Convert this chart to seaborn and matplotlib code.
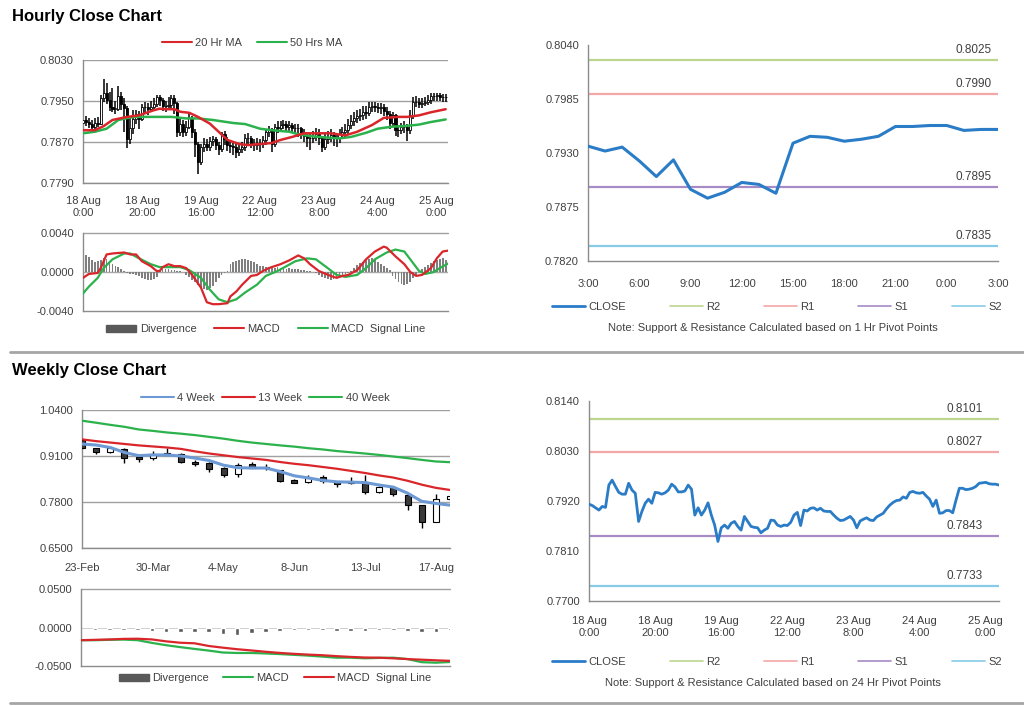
import numpy as np
import pandas as pd
import matplotlib
matplotlib.use("Agg")
import matplotlib.pyplot as plt
import seaborn as sns
from matplotlib.patches import Patch
from matplotlib.lines import Line2D

# ---------------- DATA ----------------
hourly_close = [
    0.7913, 0.7910, 0.7905, 0.7900, 0.7908, 0.7906, 0.7955, 0.7966, 0.7952, 0.7939,
    0.7935, 0.7935, 0.7959, 0.7944, 0.7937, 0.7875, 0.7897, 0.7915, 0.7924, 0.7915,
    0.7939, 0.7938, 0.7935, 0.7938, 0.7944, 0.7957, 0.7951, 0.7940, 0.7940, 0.7942,
    0.7955, 0.7946, 0.7889, 0.7905, 0.7889, 0.7900, 0.7916, 0.7889, 0.7867, 0.7831,
    0.7861, 0.7867, 0.7860, 0.7871, 0.7875, 0.7864, 0.7856, 0.7886, 0.7875, 0.7864,
    0.7862, 0.7861, 0.7850, 0.7856, 0.7860, 0.7878, 0.7877, 0.7867, 0.7864, 0.7867,
    0.7866, 0.7873, 0.7889, 0.7895, 0.7866, 0.7900, 0.7898, 0.7904, 0.7905, 0.7900,
    0.7904, 0.7898, 0.7897, 0.7897, 0.7889, 0.7882, 0.7877, 0.7878, 0.7882, 0.7886,
    0.7878, 0.7861, 0.7876, 0.7880, 0.7883, 0.7878, 0.7877, 0.7885, 0.7889, 0.7893,
    0.7903, 0.7911, 0.7917, 0.7921, 0.7922, 0.7929, 0.7926, 0.7939, 0.7941, 0.7938,
    0.7937, 0.7939, 0.7931, 0.7924, 0.7908, 0.7922, 0.7893, 0.7894, 0.7899, 0.7899,
    0.7894, 0.7922, 0.7948, 0.7948, 0.7945, 0.7946, 0.7948, 0.7952, 0.7959, 0.7960,
    0.7961, 0.7958, 0.7957, 0.7957, 0.7955]
hourly_first_open = 0.7908
hourly_high = [
    0.7920, 0.7921, 0.7917, 0.7912, 0.7916, 0.7918, 0.7962, 0.7992, 0.7985, 0.7968,
    0.7975, 0.7950, 0.7980, 0.7968, 0.7955, 0.7940, 0.7918, 0.7933, 0.7932, 0.7930,
    0.7945, 0.7948, 0.7946, 0.7950, 0.7955, 0.7962, 0.7962, 0.7955, 0.7950, 0.7958,
    0.7962, 0.7962, 0.7948, 0.7915, 0.7912, 0.7910, 0.7926, 0.7920, 0.7895, 0.7870,
    0.7866, 0.7878, 0.7875, 0.7880, 0.7882, 0.7880, 0.7870, 0.7890, 0.7892, 0.7880,
    0.7872, 0.7870, 0.7866, 0.7865, 0.7870, 0.7885, 0.7888, 0.7882, 0.7875, 0.7878,
    0.7876, 0.7882, 0.7895, 0.7902, 0.7898, 0.7906, 0.7910, 0.7910, 0.7912, 0.7910,
    0.7910, 0.7908, 0.7906, 0.7905, 0.7900, 0.7895, 0.7890, 0.7888, 0.7892, 0.7898,
    0.7895, 0.7882, 0.7885, 0.7892, 0.7895, 0.7890, 0.7886, 0.7895, 0.7900, 0.7905,
    0.7915, 0.7922, 0.7928, 0.7932, 0.7935, 0.7940, 0.7940, 0.7948, 0.7949, 0.7948,
    0.7946, 0.7947, 0.7945, 0.7938, 0.7930, 0.7928, 0.7925, 0.7902, 0.7908, 0.7910,
    0.7905, 0.7932, 0.7958, 0.7960, 0.7955, 0.7955, 0.7958, 0.7962, 0.7966, 0.7966,
    0.7966, 0.7965, 0.7964, 0.7963, 0.7962]
hourly_low = [
    0.7900, 0.7902, 0.7897, 0.7893, 0.7895, 0.7899, 0.7903, 0.7948, 0.7945, 0.7930,
    0.7928, 0.7925, 0.7930, 0.7932, 0.7890, 0.7858, 0.7866, 0.7885, 0.7905, 0.7896,
    0.7910, 0.7925, 0.7922, 0.7928, 0.7930, 0.7938, 0.7940, 0.7930, 0.7928, 0.7932,
    0.7935, 0.7925, 0.7880, 0.7882, 0.7880, 0.7882, 0.7895, 0.7878, 0.7840, 0.7807,
    0.7825, 0.7850, 0.7852, 0.7853, 0.7862, 0.7855, 0.7845, 0.7850, 0.7865, 0.7852,
    0.7848, 0.7845, 0.7838, 0.7842, 0.7848, 0.7852, 0.7865, 0.7858, 0.7852, 0.7855,
    0.7850, 0.7858, 0.7865, 0.7880, 0.7851, 0.7860, 0.7888, 0.7890, 0.7895, 0.7890,
    0.7892, 0.7888, 0.7885, 0.7880, 0.7876, 0.7870, 0.7860, 0.7855, 0.7868, 0.7872,
    0.7865, 0.7851, 0.7855, 0.7866, 0.7870, 0.7862, 0.7860, 0.7868, 0.7875, 0.7880,
    0.7885, 0.7895, 0.7902, 0.7908, 0.7910, 0.7912, 0.7915, 0.7920, 0.7928, 0.7928,
    0.7926, 0.7925, 0.7920, 0.7912, 0.7895, 0.7900, 0.7882, 0.7880, 0.7885, 0.7888,
    0.7871, 0.7885, 0.7915, 0.7938, 0.7936, 0.7936, 0.7940, 0.7942, 0.7945, 0.7950,
    0.7950, 0.7950, 0.7948, 0.7948, 0.7940]

ma20_hours = [0, 4, 7, 10, 15, 19, 24, 26, 28, 31, 33, 36, 39, 43, 46, 49, 53, 56, 60, 64,
              67, 71, 75, 80, 84, 89, 93, 98, 102, 107, 110, 114, 118, 123]
ma20_vals = [0.7893, 0.7893, 0.7901, 0.7913, 0.7919, 0.7922, 0.7932, 0.7935, 0.7934, 0.7934,
             0.7929, 0.7927, 0.7919, 0.7906, 0.7890, 0.7874, 0.7866, 0.7864, 0.7866, 0.7868,
             0.7874, 0.7880, 0.7887, 0.7887, 0.7887, 0.7883, 0.7890, 0.7903, 0.7917, 0.7919,
             0.7919, 0.7922, 0.7928, 0.7934]
ma50_hours = [0, 4, 8, 12, 17, 21, 26, 30, 35, 39, 44, 51, 55, 60, 64, 70, 73, 78, 82, 87,
              91, 96, 100, 105, 109, 114, 118, 123]
ma50_vals = [0.7887, 0.7890, 0.7896, 0.7913, 0.7919, 0.7919, 0.7919, 0.7919, 0.7916, 0.7916,
             0.7913, 0.7907, 0.7905, 0.7896, 0.7893, 0.7890, 0.7885, 0.7881, 0.7879, 0.7877,
             0.7880, 0.7888, 0.7896, 0.7900, 0.7901, 0.7904, 0.7909, 0.7914]

hourly_divergence = [
    0.0016, 0.0017, 0.0015, 0.0012, 0.0010, 0.0011, 0.0012, 0.0014, 0.0013, 0.0011,
    0.0008, 0.0006, 0.0005, 0.0003, 0.0001, -0.0001, -0.0002, -0.0002, -0.0003, -0.0004,
    -0.0006, -0.0007, -0.0008, -0.0008, -0.0007, -0.0005, 0.0002, 0.0003, 0.0003, 0.0003,
    0.0002, 0.0002, 0.0001, 0.0001, 0.0000, -0.0003, -0.0005, -0.0008, -0.0010, -0.0013,
    -0.0015, -0.0017, -0.0018, -0.0016, -0.0014, -0.0010, -0.0006, -0.0003, -0.0001, 0.0001,
    0.0008, 0.0010, 0.0011, 0.0012, 0.0013, 0.0013, 0.0012, 0.0011, 0.0010, 0.0008,
    0.0006, 0.0006, 0.0005, 0.0005, 0.0004, 0.0004, 0.0005, 0.0004, 0.0004, 0.0003,
    0.0004, 0.0003, 0.0003, 0.0003, 0.0002, 0.0002, 0.0001, 0.0001, 0.0000, -0.0001,
    -0.0003, -0.0005, -0.0006, -0.0007, -0.0008, -0.0007, -0.0006, -0.0004, -0.0003, -0.0002,
    -0.0001, 0.0001, 0.0004, 0.0007, 0.0009, 0.0010, 0.0012, 0.0013, 0.0014, 0.0012,
    0.0010, 0.0008, 0.0006, 0.0004, 0.0002, -0.0004, -0.0007, -0.0010, -0.0012, -0.0013,
    -0.0012, -0.0010, -0.0006, -0.0003, 0.0000, 0.0003, 0.0005, 0.0007, 0.0009, 0.0011,
    0.0012, 0.0013, 0.0014, 0.0012, 0.0010]
macd_hours = [0, 2, 5, 6, 8, 10, 14, 16, 18, 20, 23, 25, 26, 27, 29, 31, 33, 35, 37, 40,
              42, 44, 46, 49, 50, 52, 54, 57, 59, 61, 63, 67, 70, 73, 75, 77, 80, 84, 86, 88,
              90, 93, 96, 99, 102, 103, 106, 109, 111, 113, 115, 118, 120, 122, 124]
macd_vals = [-0.0006, -0.0002, -0.0001, 0.0004, 0.0018, 0.0019, 0.0020, 0.0018, 0.0018, 0.0011,
             0.0006, 0.0001, 0.0001, 0.0005, 0.0008, 0.0006, 0.0006, 0.0004, -0.0003, -0.0016,
             -0.0031, -0.0033, -0.0033, -0.0032, -0.0025, -0.0020, -0.0013, -0.0004, -0.0003, 0.0001,
             0.0004, 0.0008, 0.0012, 0.0017, 0.0014, 0.0008, 0.0001, -0.0004, -0.0006, -0.0004,
             -0.0003, 0.0002, 0.0013, 0.0021, 0.0026, 0.0025, 0.0016, 0.0008, 0.0000, -0.0004,
             -0.0003, 0.0004, 0.0014, 0.0021, 0.0022]
signal_hours = [0, 2, 5, 7, 10, 14, 16, 19, 23, 26, 29, 33, 36, 40, 43, 46, 49, 52, 55, 59,
                62, 66, 69, 72, 76, 79, 83, 86, 89, 93, 96, 99, 103, 106, 109, 112, 114, 116, 119,
                121, 124]
signal_vals = [-0.0022, -0.0015, -0.0006, 0.0004, 0.0013, 0.0019, 0.0019, 0.0014, 0.0008, 0.0005,
               0.0005, 0.0005, 0.0002, -0.0006, -0.0018, -0.0028, -0.0031, -0.0028, -0.0021, -0.0013,
               -0.0004, 0.0001, 0.0006, 0.0011, 0.0014, 0.0013, 0.0004, -0.0003, -0.0005, -0.0003,
               0.0004, 0.0013, 0.0020, 0.0023, 0.0021, 0.0009, 0.0001, -0.0002, 0.0000,
               0.0004, 0.0009]

hourly_tick_hours = [0, 20, 40, 60, 80, 100, 120]
hourly_tick_labels = ["18 Aug\n0:00", "18 Aug\n20:00", "19 Aug\n16:00", "22 Aug\n12:00",
                      "23 Aug\n8:00", "24 Aug\n4:00", "25 Aug\n0:00"]

day_close = [0.7937, 0.7932, 0.7936, 0.7922, 0.7906, 0.7923, 0.7893, 0.7884, 0.7890, 0.7900,
             0.7898, 0.7889, 0.7940, 0.7947, 0.7946, 0.7942, 0.7944, 0.7947, 0.7957, 0.7957,
             0.7958, 0.7958, 0.7953, 0.7954, 0.7954]
day_tick_labels = ["3:00", "6:00", "9:00", "12:00", "15:00", "18:00", "21:00", "0:00", "3:00"]

pivot_names = ["R2", "R1", "S1", "S2"]
hourly_pivots = [0.8025, 0.7990, 0.7895, 0.7835]
daily_pivots = [0.8101, 0.8027, 0.7843, 0.7733]

week_labels = ["23-Feb", "30-Mar", "4-May", "8-Jun", "13-Jul", "17-Aug"]
week_open = [0.955, 0.932, 0.921, 0.929, 0.908, 0.903, 0.919, 0.915, 0.894, 0.889,
             0.875, 0.858, 0.886, 0.880, 0.870, 0.842, 0.836, 0.852, 0.837, 0.833,
             0.837, 0.807, 0.823, 0.800, 0.771, 0.723, 0.788]
week_close = [0.932, 0.920, 0.932, 0.903, 0.901, 0.917, 0.913, 0.892, 0.886, 0.873,
              0.856, 0.884, 0.877, 0.875, 0.839, 0.835, 0.849, 0.838, 0.830, 0.840,
              0.807, 0.823, 0.802, 0.771, 0.723, 0.788, 0.797]
week_high = [0.960, 0.934, 0.934, 0.934, 0.908, 0.924, 0.932, 0.918, 0.899, 0.892,
             0.880, 0.889, 0.894, 0.887, 0.870, 0.845, 0.856, 0.856, 0.840, 0.852,
             0.856, 0.824, 0.826, 0.804, 0.771, 0.802, 0.798]
week_low = [0.930, 0.917, 0.919, 0.889, 0.892, 0.899, 0.913, 0.889, 0.883, 0.866,
            0.852, 0.852, 0.875, 0.870, 0.836, 0.833, 0.833, 0.833, 0.823, 0.830,
            0.804, 0.806, 0.798, 0.757, 0.706, 0.723, 0.787]
ma4w = [0.944, 0.941, 0.934, 0.920, 0.911, 0.913, 0.913, 0.910, 0.904, 0.897,
        0.884, 0.877, 0.876, 0.876, 0.866, 0.854, 0.848, 0.841, 0.837, 0.836,
        0.835, 0.828, 0.822, 0.805, 0.782, 0.776, 0.771]
ma13w = [0.957, 0.952, 0.948, 0.944, 0.940, 0.937, 0.934, 0.930, 0.923, 0.917,
         0.912, 0.907, 0.903, 0.899, 0.893, 0.888, 0.884, 0.879, 0.874, 0.868,
         0.862, 0.855, 0.849, 0.840, 0.829, 0.820, 0.814]
ma40w = [1.0098, 1.0040, 0.9980, 0.9925, 0.9850, 0.9810, 0.9765, 0.9730, 0.9690, 0.9640,
         0.9590, 0.9530, 0.9480, 0.9440, 0.9400, 0.9365, 0.9320, 0.9285, 0.9240, 0.9205,
         0.9170, 0.9130, 0.9085, 0.9040, 0.8990, 0.8945, 0.8925]
week_divergence = [-0.0035, -0.0035, -0.0035, -0.0035, -0.0043, -0.0057, -0.0057, -0.0057, -0.0057,
                   -0.0078, -0.0100, -0.0070, -0.0057, -0.0043, -0.0035, -0.0035, -0.0035, -0.0043,
                   -0.0043, -0.0043, -0.0035, -0.0026, -0.0048, -0.0057, -0.0057, -0.0035]
week_macd = [-0.0165, -0.0165, -0.0160, -0.0157, -0.0165, -0.0200, -0.0230, -0.0255, -0.0278,
             -0.0300, -0.0325, -0.0331, -0.0331, -0.0337, -0.0345, -0.0355, -0.0365, -0.0378,
             -0.0392, -0.0392, -0.0400, -0.0395, -0.0392, -0.0410, -0.0450, -0.0457, -0.0448]
week_signal = [-0.0165, -0.0160, -0.0155, -0.0148, -0.0146, -0.0155, -0.0180, -0.0198, -0.0205,
               -0.0240, -0.0262, -0.0282, -0.0298, -0.0315, -0.0330, -0.0342, -0.0352, -0.0360,
               -0.0372, -0.0382, -0.0390, -0.0392, -0.0400, -0.0410, -0.0418, -0.0426, -0.0433]

# ---------------- STYLE ----------------
sns.set_style("white")
plt.rcParams['font.family'] = ['Liberation Sans', 'DejaVu Sans']

W, H = 1024, 706
fig = plt.figure(figsize=(W / 100, H / 100), dpi=100)
fig.patch.set_facecolor('white')

TXT = '#404040'
SPINE = '#8c8c8c'
GRID = '#a0a0a0'
RED = '#d9262b'
GREEN = '#2bb24c'
BLUE_CLOSE = '#2a7cc7'
BLUE_4W = '#6d9ad4'
PIV_COLORS = ['#bcd68f', '#f3a7a7', '#a78bc6', '#86cce6']
FS = 8


def rect(l, t, r, b):
    return [l / W, 1 - b / H, (r - l) / W, (b - t) / H]


def style(ax):
    for s in ['top', 'right']:
        ax.spines[s].set_visible(False)
    for s in ['left', 'bottom']:
        ax.spines[s].set_color(SPINE)
        ax.spines[s].set_linewidth(1)
    ax.tick_params(axis='both', colors=SPINE, labelcolor=TXT, labelsize=FS,
                   length=3, width=1, direction='out')
    ax.set_xlabel('')
    ax.set_ylabel('')
    ax.set_facecolor('white')


def yfmt(ax, ticks):
    ax.set_yticks(ticks)
    ax.set_yticklabels([f"{t:.4f}" for t in ticks])


def candles(ax, x, o, c, hi, lo, width, wick_lw, edge_lw, down_color, min_h):
    x = np.asarray(x, float)
    o = np.asarray(o); c = np.asarray(c)
    ax.vlines(x, lo, hi, color='black', lw=wick_lw, zorder=2)
    up = c >= o
    bottom = np.minimum(o, c)
    height = np.maximum(np.abs(c - o), min_h)
    ax.bar(x[up], height[up], width, bottom=bottom[up], color='white',
           edgecolor='black', linewidth=edge_lw, zorder=3)
    ax.bar(x[~up], height[~up], width, bottom=bottom[~up], color=down_color,
           edgecolor='black', linewidth=edge_lw, zorder=3)


def legend(handles, labels, cx, cy, **kw):
    opts = dict(loc='center', bbox_to_anchor=(cx / W, 1 - cy / H), ncol=len(handles),
                frameon=False, fontsize=FS, labelcolor=TXT, handletextpad=0.3,
                borderpad=0, borderaxespad=0, handlelength=2.7, columnspacing=1.3)
    opts.update(kw)
    fig.legend(handles, labels, **opts)


hours = np.arange(len(hourly_close))
hourly_open = [hourly_first_open] + hourly_close[:-1]

# ---------------- Titles & separators ----------------
fig.text(12 / W, 1 - 16 / H, "Hourly Close Chart", fontsize=12, fontweight='bold',
         color='black', va='center')
fig.text(12 / W, 1 - 370 / H, "Weekly Close Chart", fontsize=12, fontweight='bold',
         color='black', va='center')
for yy in (352, 703):
    fig.add_artist(Line2D([10 / W, 1.0], [1 - yy / H, 1 - yy / H], color='#a6a6a6',
                          lw=2, transform=fig.transFigure))

# ---------------- Top-left: hourly candles ----------------
ax1 = fig.add_axes(rect(83, 60, 448, 183))
candles(ax1, hours, hourly_open, hourly_close, hourly_high, hourly_low,
        width=0.7, wick_lw=1.1, edge_lw=0.6, down_color='black', min_h=0.00005)
df20 = pd.DataFrame({'h': ma20_hours, 'v': ma20_vals})
df50 = pd.DataFrame({'h': ma50_hours, 'v': ma50_vals})
sns.lineplot(data=df20, x='h', y='v', ax=ax1, color=RED, lw=1.8, zorder=5)
sns.lineplot(data=df50, x='h', y='v', ax=ax1, color=GREEN, lw=1.8, zorder=4)
style(ax1)
ax1.set_xlim(0, 123.8)
ax1.set_ylim(0.7790, 0.8030)
yfmt(ax1, [0.7790, 0.7870, 0.7950, 0.8030])
ax1.yaxis.grid(True, color=GRID, lw=1)
ax1.set_axisbelow(True)
ax1.set_xticks(hourly_tick_hours)
ax1.set_xticklabels(hourly_tick_labels, linespacing=1.25)
ax1.tick_params(axis='x', pad=6)
legend([Line2D([], [], color=RED, lw=1.5), Line2D([], [], color=GREEN, lw=1.5)],
       ["20 Hr MA", "50 Hrs MA"], 252, 43)

# ---------------- Top-left: hourly MACD ----------------
ax2 = fig.add_axes(rect(83, 233, 448, 311))
ax2.bar(hours, hourly_divergence, width=0.6, color='#7f7f7f', linewidth=0, zorder=2)
ax2.axhline(0, color='#a8a8a8', lw=1.0, zorder=1)
sns.lineplot(x=macd_hours, y=macd_vals, ax=ax2, color=RED, lw=1.6, zorder=4)
sns.lineplot(x=signal_hours, y=signal_vals, ax=ax2, color=GREEN, lw=1.6, zorder=3)
style(ax2)
ax2.set_xlim(0, 123.8)
ax2.set_ylim(-0.0040, 0.0040)
yfmt(ax2, [-0.0040, 0.0000, 0.0040])
ax2.axhline(0.0040, color=GRID, lw=1, clip_on=False)
ax2.set_xticks([])
legend([Patch(color='#595959'), Line2D([], [], color=RED, lw=1.5),
        Line2D([], [], color=GREEN, lw=1.5)],
       ["Divergence", "MACD", "MACD  Signal Line"], 266, 329,
       handleheight=0.6, columnspacing=1.6)

# ---------------- Top-right: 1 hour pivots ----------------
ax3 = fig.add_axes(rect(588, 45, 998, 261))
dfd = pd.DataFrame({'h': np.arange(len(day_close)), 'close': day_close})
for lvl, col in zip(hourly_pivots, PIV_COLORS):
    ax3.axhline(lvl, color=col, lw=1.6, zorder=2)
    ax3.annotate(f"{lvl:.4f}", xy=(0.985, lvl), xycoords=('axes fraction', 'data'),
                 xytext=(0, 3), textcoords='offset points', ha='right', va='bottom',
                 fontsize=FS + 0.5, color=TXT)
sns.lineplot(data=dfd, x='h', y='close', ax=ax3, color=BLUE_CLOSE, lw=2.2, zorder=4)
style(ax3)
ax3.set_xlim(0, 24)
ax3.set_ylim(0.7820, 0.8040)
yfmt(ax3, [0.7820, 0.7875, 0.7930, 0.7985, 0.8040])
ax3.set_xticks(np.arange(0, 25, 3))
ax3.set_xticklabels(day_tick_labels)
ax3.tick_params(axis='x', pad=10)
piv_handles = [Line2D([], [], color=BLUE_CLOSE, lw=2)] + \
              [Line2D([], [], color=c, lw=1.2) for c in PIV_COLORS]
legend(piv_handles, ["CLOSE"] + pivot_names, 777, 307, handlelength=3.0, columnspacing=3.9)
fig.text(773 / W, 1 - 328 / H, "Note: Support & Resistance Calculated based on 1 Hr Pivot Points",
         fontsize=FS, color=TXT, ha='center', va='center')

# ---------------- Bottom-left: weekly candles ----------------
weeks = np.arange(len(week_close))
ax4 = fig.add_axes(rect(82, 410, 450, 548))
candles(ax4, weeks, week_open, week_close, week_high, week_low,
        width=0.42, wick_lw=1.0, edge_lw=0.8, down_color='#3a3a3a', min_h=0.002)
sns.lineplot(x=weeks, y=ma40w, ax=ax4, color=GREEN, lw=1.6, zorder=4)
sns.lineplot(x=weeks, y=ma13w, ax=ax4, color=RED, lw=1.6, zorder=4)
sns.lineplot(x=weeks, y=ma4w, ax=ax4, color=BLUE_4W, lw=2.2, zorder=5)
style(ax4)
ax4.set_xlim(0, 26.0)
ax4.set_ylim(0.6500, 1.0400)
yfmt(ax4, [0.6500, 0.7800, 0.9100, 1.0400])
ax4.yaxis.grid(True, color=GRID, lw=1)
ax4.set_axisbelow(True)
ax4.set_xticks([0, 5, 10, 15, 20, 25])
ax4.set_xticklabels(week_labels)
ax4.tick_params(axis='x', pad=8)
legend([Line2D([], [], color=BLUE_4W, lw=1.5), Line2D([], [], color=RED, lw=1.5),
        Line2D([], [], color=GREEN, lw=1.5)],
       ["4 Week", "13 Week", "40 Week"], 265, 398, handlelength=3.0, columnspacing=0.6)

# ---------------- Bottom-left: weekly MACD ----------------
ax5 = fig.add_axes(rect(81, 589, 450, 666))
ax5.bar(weeks[1:], week_divergence, width=0.32, color='#5a5a5a', zorder=2)
ax5.axhline(0, color='#c8c8c8', lw=0.6, zorder=1)
sns.lineplot(x=weeks, y=week_macd, ax=ax5, color=GREEN, lw=1.6, zorder=3)
sns.lineplot(x=weeks, y=week_signal, ax=ax5, color=RED, lw=1.6, zorder=4)
style(ax5)
ax5.set_xlim(0, 26.0)
ax5.set_ylim(-0.0500, 0.0500)
yfmt(ax5, [-0.0500, 0.0000, 0.0500])
ax5.axhline(0.0500, color=GRID, lw=1, clip_on=False)
ax5.set_xticks([])
legend([Patch(color='#595959'), Line2D([], [], color=GREEN, lw=1.5),
        Line2D([], [], color=RED, lw=1.5)],
       ["Divergence", "MACD", "MACD  Signal Line"], 275, 678,
       handleheight=0.6, columnspacing=1.3)

# ---------------- Bottom-right: 24 hour pivots ----------------
ax6 = fig.add_axes(rect(589, 401, 999, 601))
dfh = pd.DataFrame({'h': hours, 'close': hourly_close})
for lvl, col in zip(daily_pivots, PIV_COLORS):
    ax6.axhline(lvl, color=col, lw=1.6, zorder=2)
    ax6.annotate(f"{lvl:.4f}", xy=(0.96, lvl), xycoords=('axes fraction', 'data'),
                 xytext=(0, 3), textcoords='offset points', ha='right', va='bottom',
                 fontsize=FS + 0.5, color=TXT)
sns.lineplot(data=dfh, x='h', y='close', ax=ax6, color=BLUE_CLOSE, lw=2.0, zorder=4)
style(ax6)
ax6.set_xlim(0, 124)
ax6.set_ylim(0.7700, 0.8140)
yfmt(ax6, [0.7700, 0.7810, 0.7920, 0.8030, 0.8140])
ax6.set_xticks(hourly_tick_hours)
ax6.set_xticklabels(hourly_tick_labels, linespacing=1.25)
ax6.tick_params(axis='x', pad=8)
legend(piv_handles, ["CLOSE"] + pivot_names, 777, 662, handlelength=3.0, columnspacing=3.9)
fig.text(773 / W, 1 - 683 / H, "Note: Support & Resistance Calculated based on 24 Hr Pivot Points",
         fontsize=FS, color=TXT, ha='center', va='center')

fig.savefig("out.png", dpi=100, facecolor='white')
